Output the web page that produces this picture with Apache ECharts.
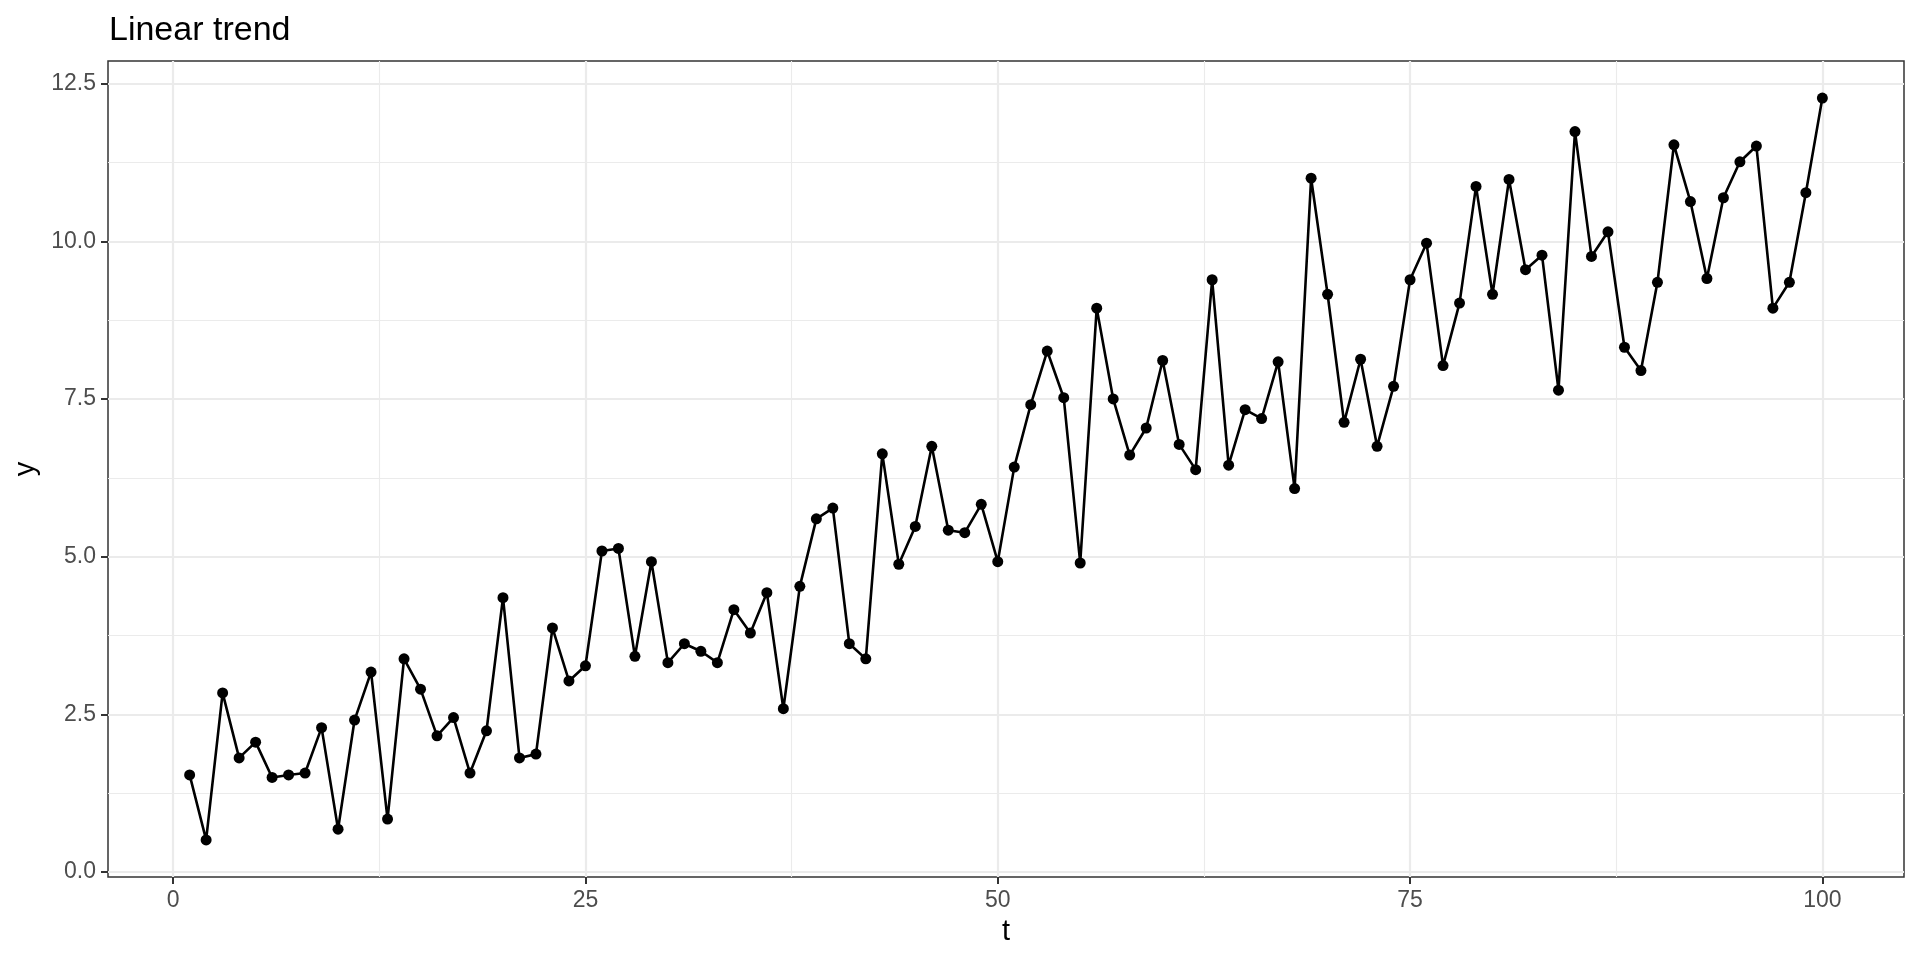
<!DOCTYPE html>
<html>
<head>
<meta charset="utf-8">
<script src="https://cdn.jsdelivr.net/npm/echarts@6/dist/echarts.min.js"></script>
<style>
html,body{margin:0;padding:0;background:#fff;}
#chart{width:1920px;height:960px;}
</style>
</head>
<body>
<div id="chart"></div>
<script>
const tValues = Array.from({length: 100}, (_, i) => i + 1);
const yValues = [
  1.54, 0.51, 2.84, 1.81, 2.06, 1.50, 1.54, 1.57, 2.29, 0.68,
  2.41, 3.17, 0.84, 3.38, 2.90, 2.16, 2.45, 1.57, 2.24, 4.35,
  1.81, 1.87, 3.87, 3.03, 3.27, 5.09, 5.13, 3.42, 4.92, 3.32,
  3.62, 3.50, 3.32, 4.16, 3.79, 4.43, 2.59, 4.53, 5.60, 5.77,
  3.62, 3.38, 6.63, 4.88, 5.48, 6.75, 5.42, 5.38, 5.83, 4.92,
  6.42, 7.41, 8.26, 7.52, 4.90, 8.94, 7.50, 6.61, 7.04, 8.11,
  6.78, 6.38, 9.39, 6.45, 7.33, 7.19, 8.09, 6.08, 11.00, 9.16,
  7.13, 8.13, 6.75, 7.70, 9.39, 9.97, 8.03, 9.02, 10.87, 9.16,
  10.98, 9.55, 9.78, 7.64, 11.74, 9.76, 10.15, 8.32, 7.95, 9.35,
  11.53, 10.63, 9.41, 10.69, 11.26, 11.51, 8.94, 9.35, 10.77, 12.27
];
const xMajorTicks = [0, 25, 50, 75, 100];
const xMinorTicks = [12.5, 37.5, 62.5, 87.5];
const yMajorTicks = [0, 2.5, 5, 7.5, 10, 12.5];
const yMinorTicks = [1.25, 3.75, 6.25, 8.75, 11.25];
const titleText = 'Linear trend';
const xName = 't';
const yName = 'y';

// ggplot-style 5% expansion
const xMinD = Math.min(...tValues), xMaxD = Math.max(...tValues);
const yMinD = Math.min(...yValues), yMaxD = Math.max(...yValues);
const xPad = (xMaxD - xMinD) * 0.05, yPad = (yMaxD - yMinD) * 0.05;
const xLo = xMinD - xPad, xHi = xMaxD + xPad;
const yLo = yMinD - yPad, yHi = yMaxD + yPad;

const font = "'Liberation Sans', Arial, Helvetica, sans-serif";
const gridColor = '#ebebeb';

const chart = echarts.init(document.getElementById('chart'), null, {renderer: 'canvas'});
chart.setOption({
  animation: false,
  backgroundColor: '#ffffff',
  title: {
    text: titleText,
    left: 104,
    top: 9,
    textStyle: {fontFamily: font, fontSize: 34, fontWeight: 'normal', color: '#000000'}
  },
  grid: {
    left: 108, right: 16, top: 61, bottom: 83,
    show: true, borderColor: '#333333', borderWidth: 1.5, backgroundColor: 'transparent'
  },
  xAxis: [
    {
      type: 'value', min: xLo, max: xHi, position: 'bottom',
      name: xName, nameLocation: 'middle', nameGap: 40,
      nameTextStyle: {fontFamily: font, fontSize: 29, color: '#000000'},
      axisLine: {show: false, onZero: false},
      axisTick: {show: true, length: 7, lineStyle: {color: '#333333', width: 2}, customValues: xMajorTicks},
      axisLabel: {customValues: xMajorTicks, margin: 12, fontFamily: font, fontSize: 23, color: '#4d4d4d'},
      splitLine: {show: true, lineStyle: {color: gridColor, width: 2.2}}
    },
    {
      type: 'value', min: xLo, max: xHi, position: 'bottom',
      axisLine: {show: false, onZero: false},
      axisTick: {show: false, customValues: xMinorTicks},
      axisLabel: {show: false, customValues: xMinorTicks},
      splitLine: {show: true, lineStyle: {color: gridColor, width: 1.1}}
    }
  ],
  yAxis: [
    {
      type: 'value', min: yLo, max: yHi, position: 'left',
      name: yName, nameLocation: 'middle', nameGap: 66,
      nameTextStyle: {fontFamily: font, fontSize: 29, color: '#000000'},
      axisLine: {show: false, onZero: false},
      axisTick: {show: true, length: 7, lineStyle: {color: '#333333', width: 2}, customValues: yMajorTicks},
      axisLabel: {customValues: yMajorTicks, margin: 12, fontFamily: font, fontSize: 23, color: '#4d4d4d',
        formatter: v => v.toFixed(1)},
      splitLine: {show: true, lineStyle: {color: gridColor, width: 2.2}}
    },
    {
      type: 'value', min: yLo, max: yHi, position: 'left',
      axisLine: {show: false, onZero: false},
      axisTick: {show: false, customValues: yMinorTicks},
      axisLabel: {show: false, customValues: yMinorTicks},
      splitLine: {show: true, lineStyle: {color: gridColor, width: 1.1}}
    }
  ],
  series: [
    {
      type: 'line',
      xAxisIndex: 0, yAxisIndex: 0,
      data: tValues.map((t, i) => [t, yValues[i]]),
      symbol: 'circle', symbolSize: 11, showSymbol: true,
      lineStyle: {color: '#000000', width: 2.6},
      itemStyle: {color: '#000000', borderWidth: 0},
      z: 5
    }
  ]
});
</script>
</body>
</html>
